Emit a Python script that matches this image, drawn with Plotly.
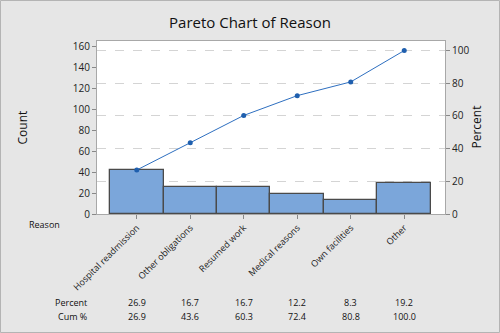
import plotly.graph_objects as go

reasons = ["Hospital readmission", "Other obligations", "Resumed work",
           "Medical reasons", "Own facilities", "Other"]
counts = [42, 26, 26, 19, 13, 30]
percent = [26.9, 16.7, 16.7, 12.2, 8.3, 19.2]
cum_pct = [26.9, 43.6, 60.3, 72.4, 80.8, 100.0]
count_ticks = [0, 20, 40, 60, 80, 100, 120, 140, 160]
pct_ticks = [0, 20, 40, 60, 80, 100]

total = sum(counts)
W, H = 500, 333
L, R, T, B = 97, 55, 41, 119
pw, ph = W - L - R, H - T - B
ymax = 165.1
FONT = "Open Sans"

def px_x(px):
    return (px - L) / pw

def px_y(py):
    return (H - B - py) / ph

x = list(range(len(reasons)))
fig = go.Figure()
fig.add_trace(go.Bar(x=x, y=counts, width=1.0,
                     marker=dict(color="#7ba6da", line=dict(color="#4a4a4a", width=1.3)),
                     yaxis="y", showlegend=False))
fig.add_trace(go.Scatter(x=x, y=cum_pct, mode="lines+markers",
                         line=dict(color="#2e6fc0", width=1),
                         marker=dict(color="#1f5fae", size=5),
                         yaxis="y2", showlegend=False))

def note(text, xx, yy, xref="paper", size=10, angle=0):
    return dict(text=text, x=xx, y=yy, xref=xref, yref="paper", textangle=angle,
                xanchor="center", yanchor="middle", showarrow=False,
                font=dict(size=size, color="#111"))

ann = [
    note("Count", px_x(22), 0.5, size=12, angle=-90),
    note("Percent", px_x(476), 0.5, size=12, angle=-90),
    note("Reason", px_x(45), px_y(225), size=9),
    note("Percent", px_x(71), px_y(302), size=9),
    note("Cum %", px_x(72), px_y(316), size=9),
]
for i in x:
    ann.append(note(f"{percent[i]:.1f}", i, px_y(302), xref="x", size=9))
    ann.append(note(f"{cum_pct[i]:.1f}", i, px_y(316), xref="x", size=9))

fig.update_layout(
    width=W, height=H,
    margin=dict(l=L, r=R, t=T, b=B),
    paper_bgcolor="#e6e6e6", plot_bgcolor="white",
    font=dict(family=FONT, size=10, color="#222"),
    title=dict(text="Pareto Chart of Reason", x=0.5, xanchor="center",
               y=1 - 23 / H, yanchor="middle", font=dict(size=15, color="#111")),
    bargap=0,
    xaxis=dict(range=[-0.743, 5.762], tickvals=x, ticktext=reasons, tickangle=-45,
               ticks="outside", ticklen=4, tickcolor="#888",
               showline=True, linecolor="#a8a8a8", mirror=True, showgrid=False,
               zeroline=False, tickfont=dict(size=9, color="#222")),
    yaxis=dict(range=[0, ymax], tickvals=count_ticks, ticks="outside", ticklen=4,
               tickcolor="#888", showline=True, linecolor="#a8a8a8", mirror=True,
               showgrid=False, zeroline=False,
               minor=dict(dtick=total * 0.2, tick0=0, showgrid=True,
                          gridcolor="#d4d4d4", griddash="dash", ticks=""),
               tickfont=dict(size=10, color="#222")),
    yaxis2=dict(range=[0, ymax / total * 100], tickvals=pct_ticks, overlaying="y",
                side="right", ticks="outside", ticklen=4, tickcolor="#888",
                showgrid=False, zeroline=False, showline=False,
                tickfont=dict(size=10, color="#222")),
    annotations=ann,
    shapes=[dict(type="rect", xref="paper", yref="paper",
                 x0=px_x(0.5), x1=px_x(W - 0.5), y0=px_y(H - 0.5), y1=px_y(0.5),
                 line=dict(color="#b4b4b4", width=1), layer="below")],
)

fig.write_html("out.html")
